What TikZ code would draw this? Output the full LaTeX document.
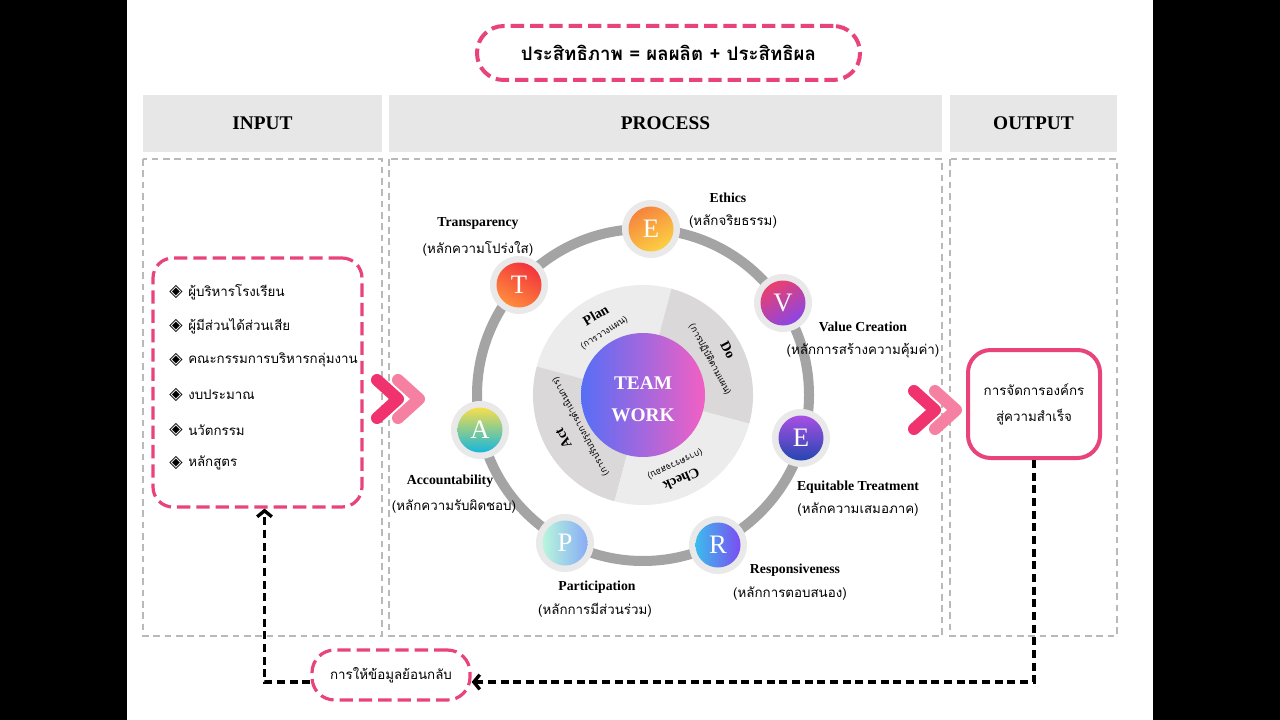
\documentclass[tikz,border=0pt]{standalone}
\usepackage{fontspec}
\setmainfont{Liberation Serif}
\newfontfamily\thai[Script=Thai]{Loma}
\newfontfamily\sym{DejaVu Sans}
\usetikzlibrary{arrows.meta}
\definecolor{pinkc}{RGB}{232,68,122}
\definecolor{hdr}{RGB}{231,231,231}
\definecolor{panelc}{RGB}{185,185,185}
\definecolor{ringc}{RGB}{164,164,164}
\definecolor{haloc}{RGB}{233,233,233}
\definecolor{secA}{RGB}{236,236,236}
\definecolor{secB}{RGB}{218,216,216}
\definecolor{chevD}{RGB}{240,50,110}
\definecolor{chevL}{RGB}{246,128,162}
\definecolor{twL}{RGB}{86,110,246}
\definecolor{twR}{RGB}{242,96,196}
\definecolor{tT}{RGB}{242,52,60}
\definecolor{bT}{RGB}{255,140,60}
\definecolor{tE}{RGB}{246,132,62}
\definecolor{bE}{RGB}{252,208,66}
\definecolor{tV}{RGB}{234,64,110}
\definecolor{bV}{RGB}{138,70,230}
\definecolor{tQ}{RGB}{168,80,228}
\definecolor{bQ}{RGB}{36,70,176}
\definecolor{tR}{RGB}{60,188,236}
\definecolor{bR}{RGB}{124,76,242}
\definecolor{tP}{RGB}{184,246,220}
\definecolor{bP}{RGB}{136,172,246}
\definecolor{tA}{RGB}{246,222,76}
\definecolor{bA}{RGB}{22,182,220}
\begin{document}
\begin{tikzpicture}[x=0.75pt,y=-0.75pt,
  hdrbox/.style={fill=hdr, inner sep=0pt, font=\bfseries\fontsize{14.5}{16}\selectfont},
  panelline/.style={draw=panelc, line width=0.8pt, dash pattern=on 5pt off 3.5pt},
  pinkdash/.style={draw=pinkc, line width=2.4pt, dash pattern=on 10pt off 4.5pt},
  titlebox/.style={pinkdash, line width=3pt, rounded corners=20pt, inner sep=0pt, font=\thai\bfseries\fontsize{14}{16}\selectfont},
  itemtext/.style={anchor=west, inner sep=0pt, font=\thai\fontsize{10}{12}\selectfont},
  bullet/.style={inner sep=0pt, font=\sym\fontsize{13}{13}\selectfont},
  fbline/.style={draw=black, line width=2.5pt, dash pattern=on 6pt off 3.5pt},
  tip/.style={-{Straight Barb[length=4.5pt,width=11pt]}},
  halo/.style={circle, fill=haloc, minimum size=43.5pt, inner sep=0pt},
  lett/.style={circle, minimum size=33.75pt, inner sep=0pt, text=white, font=\fontsize{20}{20}\selectfont},
  en/.style={inner sep=0pt, font=\bfseries\fontsize{10.3}{12}\selectfont},
  th/.style={inner sep=0pt, font=\thai\fontsize{10}{12}\selectfont},
  seclbl/.style={inner sep=0pt, font=\bfseries\fontsize{10.5}{12}\selectfont},
  secth/.style={inner sep=0pt, font=\thai\fontsize{6.8}{8}\selectfont},
  chev/.style={line width=9pt, line cap=round, line join=round}
]
\useasboundingbox (0,0) rectangle (1280,720);
\fill[black] (0,0) rectangle (1280,720);
\fill[white] (127,0) rectangle (1153,720);

% title
\node[titlebox, minimum width=287.25pt, minimum height=40.5pt] (title) at (668.5,53) {ประสิทธิภาพ = ผลผลิต + ประสิทธิผล};

% headers
\node[hdrbox, minimum width=179.25pt, minimum height=42.75pt] (hin) at (262.5,123.5) {INPUT};
\node[hdrbox, minimum width=414.75pt, minimum height=42.75pt] (hpr) at (665.5,123.5) {PROCESS};
\node[hdrbox, minimum width=125.25pt, minimum height=42.75pt] (hout) at (1033.5,123.5) {OUTPUT};

% panels
\draw[panelline] (143,159) rectangle (382,636);
\draw[panelline] (389,159) rectangle (942,636);
\draw[panelline] (950,159) rectangle (1117,636);

% input box
\node[pinkdash, rounded corners=15pt, minimum width=156.75pt, minimum height=186.75pt] (inbox) at (257.5,382.5) {};
\foreach \y [count=\k] in {292,326,360,395,430,463}
  \node[bullet] (b\k) at (176,\y) {◈};
\node[itemtext] (i1) at (188,292) {ผู้บริหารโรงเรียน};
\node[itemtext] (i2) at (188,326) {ผู้มีส่วนได้ส่วนเสีย};
\node[itemtext] (i3) at (188,360) {คณะกรรมการบริหารกลุ่มงาน};
\node[itemtext] (i4) at (188,395) {งบประมาณ};
\node[itemtext] (i5) at (188,430) {นวัตกรรม};
\node[itemtext] (i6) at (188,463) {หลักสูตร};

% chevrons
\draw[chev, chevL] (398,380) -- (419,399) -- (398,418);
\draw[chev, chevD] (377,380) -- (398,399) -- (377,418);
\draw[chev, chevL] (935,391) -- (956,410) -- (935,429);
\draw[chev, chevD] (914,391) -- (935,410) -- (914,429);

% output box
\node[draw=pinkc, line width=3pt, rounded corners=17pt, minimum width=99pt, minimum height=81pt, align=center,
      font=\thai\fontsize{10}{19.5}\selectfont] (outbox) at (1034,404) {การจัดการองค์กร\\สู่ความสำเร็จ};

% feedback
\node[pinkdash, rounded corners=17pt, minimum width=118.5pt, minimum height=37.5pt, font=\thai\fontsize{10}{12}\selectfont] (fb) at (391,675) {การให้ข้อมูลย้อนกลับ};
\draw[fbline, tip] (outbox.south) |- ([yshift=-5.25pt]fb.east);
\draw[fbline, tip] ([yshift=-5.25pt]fb.west) -| ([xshift=5.25pt]inbox.south);

% ring
\draw[ringc, line width=7.5pt] (643,395) circle[radius=124.5pt];

% inner wheel
\begin{scope}[shift={(643,395)}, y=0.75pt]
  \fill[secA] (0,0) -- (75:110) arc[start angle=75, end angle=165, radius=110] -- cycle;
  \fill[secB] (0,0) -- (165:110) arc[start angle=165, end angle=255, radius=110] -- cycle;
  \fill[secA] (0,0) -- (255:110) arc[start angle=255, end angle=345, radius=110] -- cycle;
  \fill[secB] (0,0) -- (345:110) arc[start angle=345, end angle=435, radius=110] -- cycle;
  \shade[left color=twL, right color=twR] (0,0) circle[radius=62];
  \node[text=white, font=\bfseries\fontsize{14.5}{16}\selectfont, inner sep=0pt] (team) at (0,12) {TEAM};
  \node[text=white, font=\bfseries\fontsize{14.5}{16}\selectfont, inner sep=0pt] (work) at (0,-20) {WORK};
  \node[seclbl, rotate=30.6] (plan) at (120.6:93) {Plan};
  \node[secth, rotate=32] (planth) at (122:73) {(การวางแผน)};
  \node[seclbl, rotate=-62] (do) at (28:96) {Do};
  \node[secth, rotate=-62] (doth) at (28:76) {(การปฏิบัติตามแผน)};
  \node[seclbl, rotate=-155.6] (check) at (-65.6:93) {Check};
  \node[secth, rotate=-155] (checkth) at (-65:76) {(การตรวจสอบ)};
  \node[seclbl, rotate=118.6] (act) at (208.6:91) {Act};
  \node[secth, rotate=118] (actth) at (207:70) {(การปรับปรุงการดำเนินการ)};
\end{scope}

% principle circles
\node[halo] (hE) at (651,229) {};
\node[lett, top color=tE, bottom color=bE, shading angle=30] (nE) at (hE) {E};
\node[halo] (hV) at (783,303) {};
\node[lett, top color=tV, bottom color=bV, shading angle=30] (nV) at (hV) {V};
\node[halo] (hQ) at (801,438) {};
\node[lett, top color=tQ, bottom color=bQ] (nQ) at (hQ) {E};
\node[halo] (hR) at (718,545) {};
\node[lett, left color=tR, right color=bR] (nR) at (hR) {R};
\node[halo] (hP) at (565,543) {};
\node[lett, left color=tP, right color=bP] (nP) at (hP) {P};
\node[halo] (hA) at (480,430) {};
\node[lett, top color=tA, bottom color=bA] (nA) at (hA) {A};
\node[halo] (hT) at (519,285) {};
\node[lett, top color=tT, bottom color=bT, shading angle=-30] (nT) at (hT) {T};

% labels
\node[en] (lE) at (728,198) {Ethics};
\node[th] (lEt) at (733,222) {(หลักจริยธรรม)};
\node[en] (lT) at (478,223) {Transparency};
\node[th] (lTt) at (478,249) {(หลักความโปร่งใส)};
\node[en] (lV) at (863,327) {Value Creation};
\node[th] (lVt) at (863,351) {(หลักการสร้างความคุ้มค่า)};
\node[en] (lQ) at (858,487) {Equitable Treatment};
\node[th] (lQt) at (858,510) {(หลักความเสมอภาค)};
\node[en] (lR) at (795,570) {Responsiveness};
\node[th] (lRt) at (790,594) {(หลักการตอบสนอง)};
\node[en] (lP) at (597,587) {Participation};
\node[th] (lPt) at (595,610) {(หลักการมีส่วนร่วม)};
\node[en] (lA) at (450,481) {Accountability};
\node[th] (lAt) at (454,507) {(หลักความรับผิดชอบ)};
\end{tikzpicture}
\end{document}
